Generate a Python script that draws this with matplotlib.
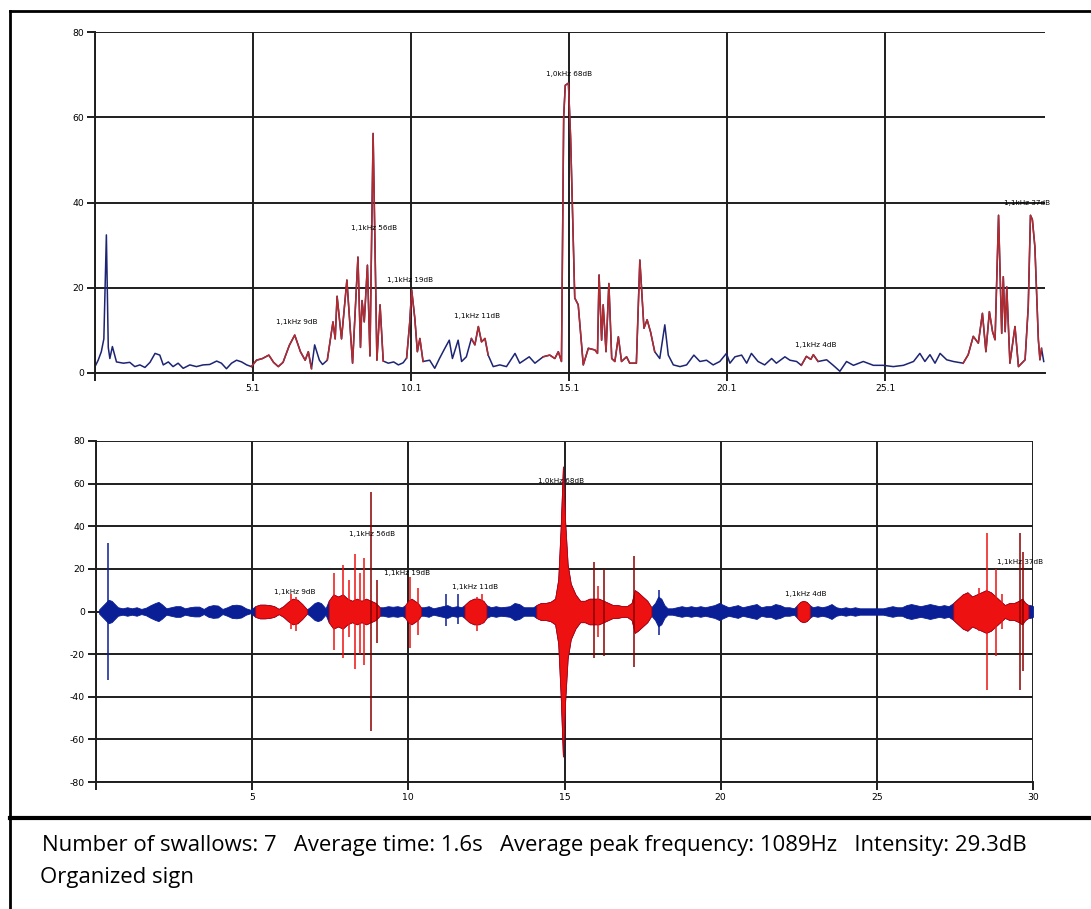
import numpy as np
import matplotlib
matplotlib.use("Agg")
import matplotlib.pyplot as plt
from matplotlib.lines import Line2D

plt.rcParams["axes.unicode_minus"] = False

# ---- top panel: intensity envelope (dB) over time (s)
top_t = [0.1, 0.2, 0.3, 0.38, 0.46, 0.52, 0.57, 0.65, 0.78, 1.0, 1.2, 1.36, 1.52, 1.68, 1.84, 2.0, 2.15,
         2.26, 2.42, 2.57, 2.73, 2.89, 3.1, 3.31, 3.52, 3.73, 3.95, 4.1, 4.26, 4.42, 4.58, 4.74, 4.9, 5.05,
         5.21, 5.4, 5.6, 5.75, 5.9, 6.05, 6.25, 6.42, 6.6, 6.75, 6.85, 6.95, 7.05, 7.2, 7.3, 7.45, 7.63,
         7.7, 7.76, 7.9, 8.07, 8.25, 8.42, 8.5, 8.55, 8.62, 8.72, 8.8, 8.9, 9.02, 9.12, 9.22, 9.38, 9.55,
         9.7, 9.85, 9.96, 10.06, 10.12, 10.22, 10.3, 10.38, 10.48, 10.69, 10.85, 11.0, 11.17, 11.31, 11.41,
         11.59, 11.7, 11.85, 12.01, 12.12, 12.23, 12.33, 12.44, 12.54, 12.7, 12.91, 13.12, 13.39, 13.54,
         13.84, 14.02, 14.28, 14.49, 14.65, 14.76, 14.86, 14.93, 14.98, 15.08, 15.15, 15.22, 15.28, 15.39,
         15.55, 15.71, 15.92, 16.0, 16.05, 16.13, 16.18, 16.27, 16.36, 16.45, 16.55, 16.66, 16.76, 16.92,
         17.02, 17.23, 17.34, 17.47, 17.57, 17.68, 17.81, 17.97, 18.13, 18.24, 18.4, 18.61, 18.82, 19.05,
         19.24, 19.45, 19.66, 19.87, 20.08, 20.19, 20.35, 20.56, 20.72, 20.87, 21.08, 21.29, 21.51, 21.66,
         21.93, 22.09, 22.3, 22.45, 22.61, 22.75, 22.83, 22.98, 23.25, 23.46, 23.67, 23.88, 24.1, 24.41,
         24.73, 25.04, 25.36, 25.68, 26.0, 26.2, 26.36, 26.52, 26.68, 26.84, 27.05, 27.26, 27.57, 27.73,
         27.89, 28.05, 28.18, 28.29, 28.4, 28.5, 28.58, 28.69, 28.79, 28.84, 28.9, 28.95, 29.05, 29.21,
         29.32, 29.53, 29.63, 29.7, 29.76, 29.84, 29.95, 30.0, 30.05, 30.12]
top_db = [1.5, 3.0, 5.0, 8.0, 32.4, 6.0, 3.4, 6.2, 2.6, 2.3, 2.5, 1.5, 1.9, 1.3, 2.5, 4.6, 4.2,
          1.9, 2.6, 1.5, 2.3, 1.1, 1.9, 1.5, 1.9, 2.0, 2.8, 2.3, 1.0, 2.3, 3.0, 2.6, 1.9, 1.5,
          3.0, 3.4, 4.2, 2.5, 1.5, 2.5, 6.5, 8.9, 5.0, 3.0, 5.0, 1.0, 6.6, 3.0, 2.0, 3.0, 12.0,
          8.0, 18.0, 8.0, 21.8, 2.3, 27.2, 6.0, 17.0, 12.0, 25.3, 4.0, 56.2, 3.0, 16.0, 2.8, 2.3, 2.6,
          1.9, 2.4, 3.5, 12.0, 19.5, 12.8, 5.0, 8.1, 2.7, 3.0, 1.1, 3.4, 5.8, 7.7, 3.4,
          7.7, 2.7, 3.8, 8.1, 6.6, 10.9, 7.3, 8.1, 4.2, 1.5, 1.9, 1.5, 4.6, 2.3,
          3.8, 2.3, 3.8, 4.2, 3.4, 5.0, 2.7, 60.0, 67.5, 68.0, 55.0, 35.0, 17.6, 16.0,
          1.9, 5.8, 5.4, 4.6, 23.0, 7.7, 16.0, 5.0, 21.0, 3.4, 2.7, 8.5, 2.7, 3.8,
          2.3, 2.3, 26.5, 10.5, 12.5, 9.6, 5.0, 3.4, 11.3, 4.2, 1.9, 1.5, 1.9, 4.2,
          2.7, 3.0, 1.9, 2.7, 4.6, 2.3, 3.8, 4.2, 2.3, 4.6, 2.7, 1.9, 3.4, 2.3,
          3.8, 3.0, 2.7, 1.8, 3.9, 3.2, 4.3, 2.7, 3.1, 1.8, 0.4, 2.7, 1.8, 2.7,
          1.8, 1.8, 1.5, 1.8, 2.7, 4.6, 2.7, 4.3, 2.3, 4.6, 3.1, 2.7, 2.3, 4.3,
          8.6, 7.0, 14.0, 5.0, 14.4, 9.7, 7.8, 37.0, 9.3, 22.6, 9.7, 20.2, 2.3, 10.9,
          1.5, 3.1, 15.6, 37.0, 36.0, 29.6, 7.8, 3.1, 5.8, 2.7]
top_red_spans = [(5.05, 6.95), (7.45, 9.22), (9.96, 10.48), (11.95, 12.54), (14.1, 17.81),
                 (22.45, 22.98), (27.57, 30.05)]
top_notes = ["1,1kHz 9dB", "1,1kHz 56dB", "1,1kHz 19dB", "1,1kHz 11dB", "1,0kHz 68dB",
             "1,1kHz 4dB", "1,1kHz 37dB"]
top_note_t = [6.49, 8.92, 10.06, 12.2, 15.1, 22.9, 29.6]
top_note_y = [12.0, 34.0, 21.8, 13.4, 70.2, 6.6, 40.0]

# ---- bottom panel: waveform envelope (half amplitude) and single spikes
wave_t = [0.1, 0.2, 0.3, 0.4, 0.5, 0.6, 0.7, 0.85, 1.0, 1.15, 1.3, 1.45, 1.6, 1.75, 1.9, 2.0, 2.1,
          2.25, 2.4, 2.55, 2.7, 2.85, 3.0, 3.15, 3.3, 3.45, 3.6, 3.75, 3.9, 4.05, 4.2, 4.35, 4.5, 4.65,
          4.8, 4.95, 5.1, 5.25, 5.4, 5.55, 5.7, 5.85, 6.0, 6.15, 6.3, 6.45, 6.6, 6.75, 6.85, 7.0, 7.1,
          7.2, 7.35, 7.45, 7.6, 7.75, 7.9, 8.05, 8.2, 8.35, 8.5, 8.65, 8.8, 8.95, 9.08, 9.2, 9.35, 9.5,
          9.65, 9.8, 9.9, 10.0, 10.1, 10.2, 10.3, 10.4, 10.5, 10.65, 10.8, 10.95, 11.1, 11.25, 11.4,
          11.55, 11.7, 11.8, 11.95, 12.1, 12.25, 12.4, 12.5, 12.65, 12.8, 12.95, 13.1, 13.25, 13.4,
          13.55, 13.7, 13.85, 14.0, 14.1, 14.25, 14.4, 14.55, 14.7, 14.8, 14.88, 14.95, 15.02, 15.1,
          15.2, 15.35, 15.5, 15.65, 15.8, 15.95, 16.1, 16.25, 16.4, 16.55, 16.7, 16.85, 17.0, 17.15,
          17.25, 17.35, 17.5, 17.65, 17.78, 17.9, 18.0, 18.1, 18.2, 18.3, 18.45, 18.6, 18.75, 18.9,
          19.05, 19.2, 19.35, 19.5, 19.65, 19.8, 19.95, 20.1, 20.25, 20.4, 20.55, 20.7, 20.85, 21.0,
          21.15, 21.3, 21.45, 21.6, 21.75, 21.9, 22.05, 22.2, 22.35, 22.45, 22.55, 22.65, 22.75, 22.85,
          22.95, 23.1, 23.25, 23.4, 23.55, 23.7, 23.85, 24.0, 24.15, 24.3, 24.45, 24.6, 24.75, 24.9,
          25.05, 25.2, 25.35, 25.5, 25.65, 25.8, 25.95, 26.1, 26.25, 26.4, 26.55, 26.7, 26.85, 27.0,
          27.15, 27.3, 27.45, 27.6, 27.75, 27.9, 28.05, 28.2, 28.35, 28.5, 28.65, 28.8, 28.95, 29.1,
          29.25, 29.4, 29.55, 29.65, 29.75, 29.85, 29.92, 30.0]
wave_amp = [1.0, 2.5, 4.0, 5.5, 5.0, 3.5, 2.0, 1.5, 2.0, 1.5, 2.0, 1.2, 1.8, 3.0, 4.0, 4.5, 3.5,
            1.5, 2.0, 2.5, 2.5, 1.5, 2.0, 2.3, 2.3, 1.2, 2.5, 3.0, 2.8, 1.2, 2.0, 3.0, 3.2, 2.8,
            1.5, 0.8, 2.5, 3.2, 3.2, 3.0, 2.5, 1.2, 2.5, 4.5, 6.0, 5.5, 3.5, 1.0, 2.0, 4.0, 4.5,
            4.0, 1.5, 5.0, 8.0, 7.0, 8.0, 6.0, 5.0, 6.0, 5.0, 6.0, 5.0, 4.0, 2.0, 2.0, 2.5, 2.2,
            2.5, 2.0, 3.0, 5.0, 6.0, 5.0, 4.0, 2.0, 2.0, 2.5, 1.5, 2.0, 2.5, 3.0, 2.0,
            2.5, 2.0, 3.0, 5.0, 6.0, 6.0, 5.0, 3.0, 2.0, 2.5, 2.0, 2.2, 2.5, 4.0,
            3.5, 2.0, 2.0, 2.0, 3.0, 4.0, 4.0, 4.5, 6.0, 15.0, 40.0, 68.0, 42.0, 22.0,
            13.0, 8.0, 5.0, 5.0, 6.0, 6.0, 6.0, 5.0, 4.0, 3.0, 3.0, 2.5, 2.5, 4.0,
            10.0, 9.0, 7.0, 5.0, 2.0, 4.0, 7.0, 6.0, 3.0, 1.5, 1.5, 2.0, 2.5, 2.0,
            2.5, 2.0, 2.5, 2.0, 2.5, 3.0, 4.0, 3.0, 2.0, 2.5, 3.0, 2.0, 2.5, 3.0,
            3.5, 2.0, 2.5, 2.5, 3.5, 3.0, 2.0, 2.0, 1.5, 3.0, 4.5, 5.0, 4.5, 3.0,
            2.0, 2.5, 2.0, 2.5, 3.5, 2.0, 1.5, 2.0, 1.5, 2.0, 1.5, 1.5, 1.5, 1.5,
            1.5, 1.5, 2.0, 2.5, 2.0, 2.0, 3.0, 3.5, 3.0, 2.5, 3.0, 3.5, 3.0, 2.5,
            3.0, 2.5, 4.0, 6.0, 8.0, 9.0, 7.0, 8.0, 9.0, 10.0, 9.0, 7.0, 5.0, 3.0,
            4.0, 4.0, 5.0, 6.0, 4.0, 3.0, 3.0, 2.5]
wave_red_spans = [(5.05, 6.8), (7.4, 9.1), (9.88, 10.4), (11.75, 12.55), (14.05, 17.8),
                  (22.42, 22.9), (27.4, 29.88)]
spike_t = [0.38, 6.25, 6.4, 7.62, 7.9, 8.1, 8.28, 8.45, 8.57, 8.81, 9.0, 10.04, 10.31, 11.22,
           11.59, 12.2, 12.35, 15.94, 16.07, 16.25, 17.21, 18.04, 27.94, 28.26, 28.52, 28.8,
           29.0, 29.57, 29.67]
spike_hi = [32, 8, 7, 18, 22, 15, 27, 18, 25, 56, 15, 16, 11, 8, 8, 7, 8, 23, 12, 20, 26, 10,
            8, 11, 37, 20, 8, 37, 28]
spike_lo = [-32, -8, -9, -18, -22, -12, -27, -20, -25, -56, -15, -17, -11, -7, -6, -9, -6, -22,
            -12, -21, -26, -11, -8, -9, -37, -21, -8, -37, -28]
spike_kind = ["b", "r", "r", "r", "r", "r", "r", "r", "r", "k", "k", "r", "r", "b", "b", "r",
              "r", "k", "r", "k", "k", "b", "r", "r", "r", "r", "r", "k", "k"]
bot_note_t = [6.36, 8.83, 9.95, 12.15, 14.9, 22.73, 29.6]
bot_note_y = [9.0, 36.2, 17.9, 11.3, 61.0, 8.0, 23.0]

info_line = ("Number of swallows: 7   Average time: 1.6s   Average peak frequency: 1089Hz   "
             "Intensity: 29.3dB")
info_line2 = "Organized sign"

W, H = 1091, 909
NAVY = "#1c2473"
BLUE = "#0a1e96"
RED = "#b52a2c"
BRED = "#ee1111"
DRED = "#8a0000"
GRID = "#1e1e1e"


def px_rect(l, t, r, b):
    return [l / W, 1 - b / H, (r - l) / W, (b - t) / H]


def style_axes(ax):
    for s in ["top", "right"]:
        ax.spines[s].set_visible(False)
    for s in ["left", "bottom"]:
        ax.spines[s].set_color(GRID)
        ax.spines[s].set_linewidth(1.4)
    ax.grid(True, color=GRID, linewidth=1.4)
    ax.set_axisbelow(True)
    ax.tick_params(direction="out", length=6, width=1.4, color=GRID, labelsize=6.7, pad=2)


class Main():
    def __init__(self):
        self.fig = plt.figure(figsize=(W / 100, H / 100), dpi=100)

    def top(self):
        ax = self.fig.add_axes(px_rect(95, 32, 1045, 373))
        t = np.array(top_t)
        d = np.array(top_db)
        ax.plot(t, d, color=NAVY, lw=1.1)
        for a, b in top_red_spans:
            m = (t >= a) & (t <= b)
            ax.plot(t[m], d[m], color=RED, lw=1.1)
        ax.set_xlim(0.1, 30.16)
        ax.set_ylim(0, 80)
        ax.set_xticks([0.1, 5.1, 10.1, 15.1, 20.1, 25.1])
        ax.set_xticklabels(["", "5.1", "10.1", "15.1", "20.1", "25.1"])
        ax.set_yticks([0, 20, 40, 60, 80])
        style_axes(ax)
        for s, x, y in zip(top_notes, top_note_t, top_note_y):
            ax.text(x, y, s, fontsize=5.2, ha="center", va="center", clip_on=False)

    def bottom(self):
        ax = self.fig.add_axes(px_rect(96, 441, 1033, 782))
        t = np.array(wave_t)
        a = np.array(wave_amp)
        ax.fill_between(t, -a, a, color=BLUE, lw=0.6, edgecolor=BLUE)
        for lo, hi in wave_red_spans:
            m = (t >= lo) & (t <= hi)
            ax.fill_between(t[m], -a[m], a[m], color=BRED, lw=0.6, edgecolor="#c40000")
        cols = {"b": BLUE, "r": BRED, "k": DRED}
        for x, hi, lo, k in zip(spike_t, spike_hi, spike_lo, spike_kind):
            ax.vlines(x, lo, hi, color=cols[k], lw=1.1)
        ax.set_xlim(0, 30)
        ax.set_ylim(-80, 80)
        ax.set_xticks([0, 5, 10, 15, 20, 25, 30])
        ax.set_xticklabels(["", "5", "10", "15", "20", "25", "30"])
        ax.set_yticks(np.arange(-80, 81, 20))
        style_axes(ax)
        for s, x, y in zip(top_notes, bot_note_t, bot_note_y):
            ax.text(x, y, s, fontsize=5.2, ha="center", va="center", clip_on=False)

    def frame(self):
        f = self.fig
        def seg(x0, y0, x1, y1, lw):
            f.add_artist(Line2D([x0 / W, x1 / W], [1 - y0 / H, 1 - y1 / H], color="black",
                                lw=lw, transform=f.transFigure))
        seg(10, 11, W, 11, 2.0)
        seg(10, 11, 10, H, 2.0)
        seg(10, 818, W, 818, 3.0)
        f.text(42 / W, 1 - 846 / H, info_line, fontsize=15.9, family="Open Sans", va="center")
        f.text(40 / W, 1 - 877 / H, info_line2, fontsize=15.9, family="Open Sans", va="center")

    def main(self):
        self.top()
        self.bottom()
        self.frame()
        self.fig.savefig("out.png", dpi=100, facecolor="white")


if __name__ == "__main__":
    m = Main()
    m.main()
